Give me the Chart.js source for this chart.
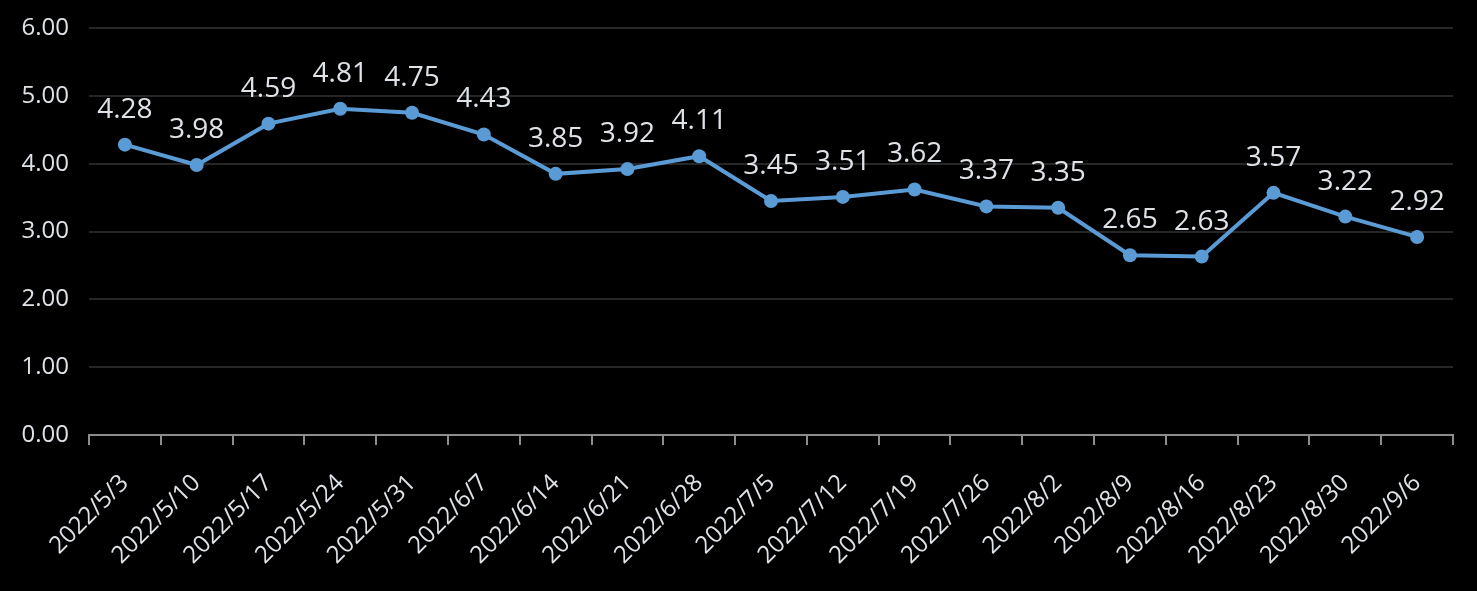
<!DOCTYPE html>
<html>
<head>
<meta charset="utf-8">
<script src="https://cdn.jsdelivr.net/npm/chart.js@4"></script>
<style>
  html, body { margin: 0; padding: 0; background: #000; }
  canvas { display: block; }
</style>
</head>
<body>
<canvas id="chart" width="1477" height="591"></canvas>
<script>
const WEEKS = ["2022/5/3", "2022/5/10", "2022/5/17", "2022/5/24", "2022/5/31", "2022/6/7",
    "2022/6/14", "2022/6/21", "2022/6/28", "2022/7/5", "2022/7/12", "2022/7/19",
    "2022/7/26", "2022/8/2", "2022/8/9", "2022/8/16", "2022/8/23", "2022/8/30", "2022/9/6"];
const VALUES = [4.28, 3.98, 4.59, 4.81, 4.75, 4.43, 3.85, 3.92, 4.11, 3.45,
    3.51, 3.62, 3.37, 3.35, 2.65, 2.63, 3.57, 3.22, 2.92];
const Y_MIN = 0, Y_MAX = 6, Y_STEP = 1;

const BLUE = "#5b9bd5";
const TEXT = "#dfe3e8";
const FONT = "'Open Sans', 'Noto Sans', sans-serif";

// draws the value above each point
const valueLabels = {
    id: "valueLabels",
    afterDatasetsDraw(chart) {
        const { ctx } = chart;
        const meta = chart.getDatasetMeta(0);
        ctx.save();
        ctx.fillStyle = TEXT;
        ctx.font = "28px " + FONT;
        ctx.textAlign = "center";
        ctx.textBaseline = "alphabetic";
        meta.data.forEach((pt, i) => {
            ctx.fillText(VALUES[i].toFixed(2), pt.x, pt.y - 27);
        });
        ctx.restore();
    },
};

new Chart(document.getElementById("chart"), {
    type: "line",
    data: {
        labels: WEEKS,
        datasets: [{
            data: VALUES,
            borderColor: BLUE, backgroundColor: BLUE,
            borderWidth: 4, tension: 0,
            pointRadius: 7, pointHoverRadius: 7,
            pointBackgroundColor: BLUE, pointBorderWidth: 0,
        }],
    },
    options: {
        responsive: false, animation: false,
        layout: { padding: { top: 28, right: 24, left: 0, bottom: 0 } },
        plugins: { legend: { display: false }, tooltip: { enabled: false } },
        scales: {
            x: {
                offset: true,
                grid: { offset: true, drawOnChartArea: false, color: "#8c8c8c", tickLength: 10, lineWidth: 2 },
                border: { color: "#8c8c8c", width: 2 },
                ticks: {
                    color: TEXT, font: { family: FONT, size: 24 },
                    minRotation: 45, maxRotation: 45, padding: 24, autoSkip: false,
                },
                afterFit: s => { s.height = 156; s.paddingTop = 0; },
            },
            y: {
                min: Y_MIN, max: Y_MAX,
                grid: { color: "#262626", lineWidth: 2, drawTicks: false },
                border: { display: false },
                ticks: {
                    stepSize: Y_STEP, color: TEXT, padding: 20,
                    font: { family: FONT, size: 24 },
                    callback: v => v.toFixed(2),
                },
                afterFit: s => { s.width = 89; s.paddingTop = 0; },
            },
        },
    },
    plugins: [valueLabels],
});
</script>
</body>
</html>
